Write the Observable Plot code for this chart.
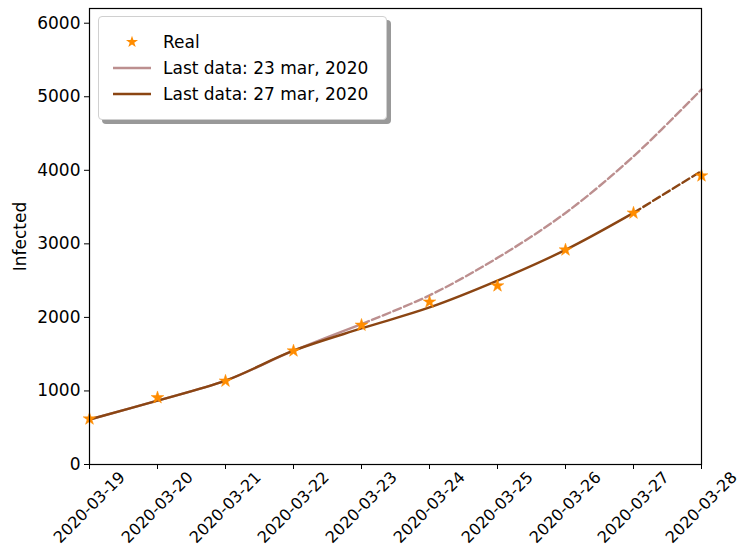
<!DOCTYPE html>
<html><head><meta charset="utf-8">
<script src="https://cdn.jsdelivr.net/npm/d3@7"></script>
<script src="https://cdn.jsdelivr.net/npm/@observablehq/plot@0.6"></script>
<style>
body{margin:0;background:#fff;font-family:"DejaVu Sans",sans-serif}
#wrap{position:relative;width:740px;height:560px}
#wrap > svg{overflow:visible}
#legend{position:absolute;left:98px;top:16px;width:287px;height:102px;background:#fff;border:1px solid #d0d0d0;border-radius:4px;box-shadow:4px 4px 0 #999;font-size:17px;color:#000}
.item{position:absolute;left:0;height:22px;display:flex;align-items:center}
.item svg{margin-left:14px;margin-right:12px}
</style></head><body><div id="wrap"><div id="legend"></div></div>
<script>
const dates = ["2020-03-19","2020-03-20","2020-03-21","2020-03-22","2020-03-23","2020-03-24","2020-03-25","2020-03-26","2020-03-27","2020-03-28"];
const real  = [620, 909, 1135, 1545, 1895, 2210, 2430, 2918, 3420, 3925];
const fit23 = [612, 869, 1140, 1547, 1910, 2300, 2810, 3420, 4190, 5100];
const fit27 = [612, 869, 1140, 1547, 1850, 2135, 2500, 2918, 3421, 3990];
const fit23Last = 4; // index of 2020-03-23
const fit27Last = 8; // index of 2020-03-27
const yTicks = [0, 1000, 2000, 3000, 4000, 5000, 6000];
const colors = {real: "#ff8c00", fit23: "#bc8f8f", fit27: "#8b4513"};
const labels = ["Real", "Last data: 23 mar, 2020", "Last data: 27 mar, 2020"];

const rows = (vals) => dates.map((d, i) => ({date: d, value: vals[i]}));
const r23 = rows(fit23), r27 = rows(fit27), rReal = rows(real);

const lineOpts = {x: "date", y: "value", curve: "catmull-rom", strokeWidth: 2.4};
const dash = "8,3.5";
const chart = Plot.plot({
  width: 740, height: 560,
  marginLeft: 89, marginRight: 39, marginTop: 8, marginBottom: 96,
  style: {fontFamily: "DejaVu Sans", fontSize: "17px", color: "#000", background: "#fff", overflow: "visible"},
  x: {type: "point", domain: dates, padding: 0},
  y: {domain: [0, 6200]},
  marks: [
    Plot.axisY({ticks: yTicks, tickSize: 5, tickPadding: 4, label: "Infected", labelAnchor: "center", labelArrow: "none", labelOffset: 76, tickFormat: d => String(d)}),
    Plot.axisX({tickSize: 5, tickRotate: -45, textAnchor: "middle", lineAnchor: "middle", tickPadding: 38, fontSize: 16, label: null}),
    Plot.line(r23.slice(0, fit23Last + 1), {...lineOpts, stroke: colors.fit23}),
    Plot.line(r23.slice(fit23Last), {...lineOpts, stroke: colors.fit23, strokeDasharray: dash}),
    Plot.line(r27.slice(0, fit27Last + 1), {...lineOpts, stroke: colors.fit27}),
    Plot.line(r27.slice(fit27Last), {...lineOpts, stroke: colors.fit27, strokeDasharray: dash}),
    Plot.dot(rReal, {x: "date", y: "value", symbol: "star", r: 4, fill: colors.real, stroke: colors.real, strokeWidth: 0.5}),
    Plot.frame({stroke: "#000", strokeWidth: 1.2})
  ]
});
document.getElementById("wrap").prepend(chart);

// legend
const leg = document.getElementById("legend");
const tops = [14, 40, 66];
const kinds = ["star", "fit23", "fit27"];
labels.forEach((t, i) => {
  const div = document.createElement("div");
  div.className = "item";
  div.style.top = tops[i] + "px";
  let icon;
  if (kinds[i] === "star") {
    icon = `<svg width="38" height="16"><path transform="translate(19,8)" d="${d3.symbol(d3.symbolStar, 45)()}" fill="${colors.real}"/></svg>`;
  } else {
    icon = `<svg width="38" height="16"><line x1="0" x2="38" y1="8" y2="8" stroke="${colors[kinds[i]]}" stroke-width="2.4"/></svg>`;
  }
  div.innerHTML = icon + `<span>${t}</span>`;
  leg.appendChild(div);
});
</script></body></html>
